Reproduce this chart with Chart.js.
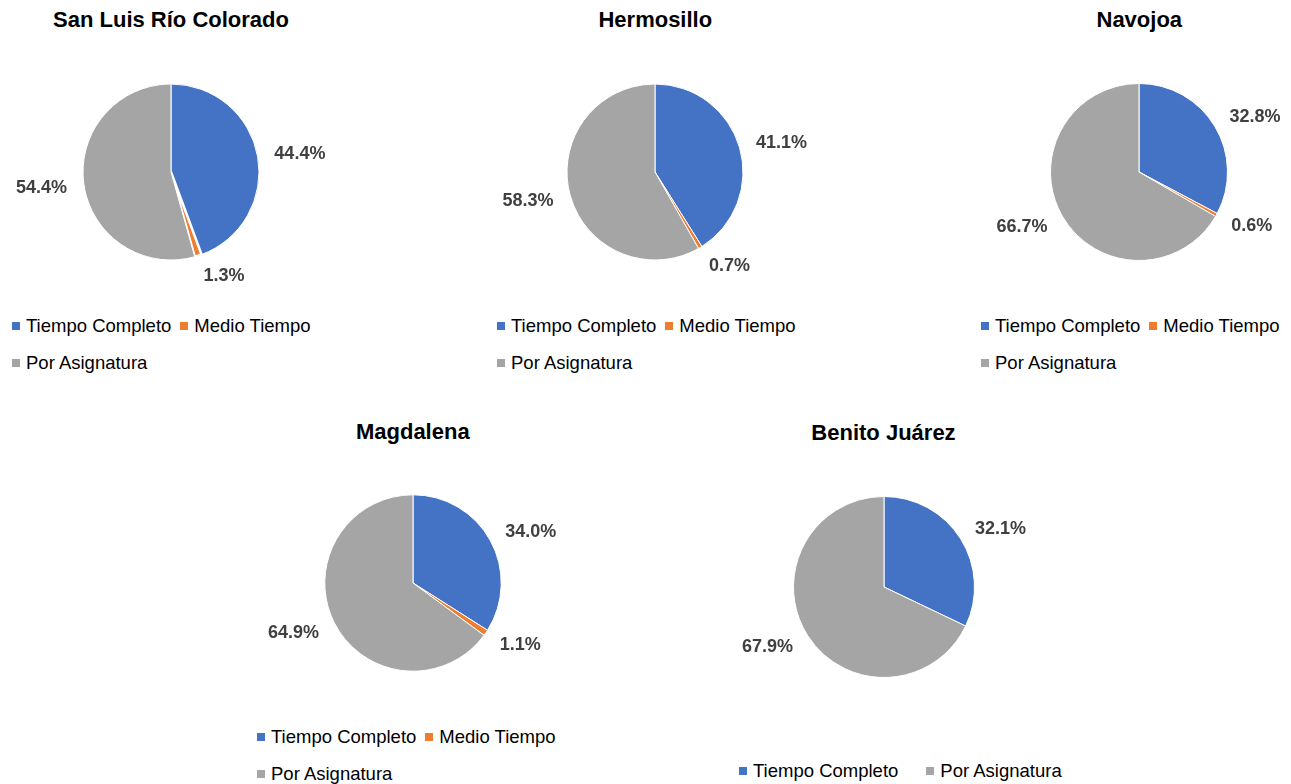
<!DOCTYPE html>
<html lang="es">
<head>
<meta charset="utf-8">
<title>Personal docente por campus</title>
<script src="https://cdn.jsdelivr.net/npm/chart.js@4.4.1/dist/chart.umd.min.js"></script>
<style>
  body { margin: 0; background: #fff; font-family: "Liberation Sans", Arial, sans-serif; }
  #pagina { position: relative; width: 1291px; height: 784px; overflow: hidden; }
  .titulo { position: absolute; font-weight: bold; font-size: 22px; line-height: 24px; color: #000; white-space: nowrap; transform: translateX(-50%); }
  canvas { position: absolute; }
  .leyenda { position: absolute; display: flex; flex-wrap: wrap; row-gap: 17px; font-size: 18.5px; line-height: 20px; color: #000; }
  .item { display: flex; align-items: center; height: 20px; white-space: nowrap; }
  .item i { display: inline-block; width: 8px; height: 8px; margin-right: 6px; }
</style>
</head>
<body>
<div id="pagina"></div>
<script>
// tipo de contratación
var categorias = ['Tiempo Completo', 'Medio Tiempo', 'Por Asignatura'];
var campus = ['San Luis Río Colorado', 'Hermosillo', 'Navojoa', 'Magdalena', 'Benito Juárez'];

// porcentajes por campus
var tiempoCompleto = [44.4, 41.1, 32.8, 34.0, 32.1];
var medioTiempo    = [1.3, 0.7, 0.6, 1.1, null];
var porAsignatura  = [54.4, 58.3, 66.7, 64.9, 67.9];

var colores = ['#4472C4', '#ED7D31', '#A5A5A5'];

// posición de cada pastel en la página
var posiciones = [
  { cx: 171,   cy: 172,   r: 88,   ty: 20,  lx: 12,  ly: 326, lw: 310, sep: 9,  borde: [1, 2.5, 1] },
  { cx: 655.3, cy: 171.7, r: 88,   ty: 20,  lx: 497, ly: 326, lw: 310, sep: 9,  borde: [1, 1, 1] },
  { cx: 1139.3,cy: 172,   r: 88.5, ty: 20,  lx: 981, ly: 326, lw: 310, sep: 9,  borde: [1, 1, 1] },
  { cx: 412.8, cy: 582.5, r: 88.2, ty: 432, lx: 257, ly: 737, lw: 310, sep: 9,  borde: [1, 1, 1] },
  { cx: 883.5, cy: 586.5, r: 90.5, ty: 433, lx: 739, ly: 771, lw: 400, sep: 28, borde: [1, 1, 1] }
];

var W = 360, H = 260;

// porcentajes fuera del pastel, alineados según el ángulo de cada rebanada
var etiquetas = {
  id: 'etiquetas',
  afterDatasetsDraw: function(chart) {
    var ctx = chart.ctx;
    var meta = chart.getDatasetMeta(0);
    var datos = chart.data.datasets[0].data;
    ctx.save();
    ctx.font = 'bold 18px "Liberation Sans", Arial, sans-serif';
    ctx.fillStyle = '#404040';
    ctx.textBaseline = 'middle';
    meta.data.forEach(function(arc, i) {
      var v = datos[i];
      if (v == null || !v) return;
      var p = arc.getProps(['x', 'y', 'startAngle', 'endAngle', 'outerRadius'], true);
      var medio = (p.startAngle + p.endAngle) / 2;
      var dx = Math.cos(medio), dy = Math.sin(medio);
      var d = p.outerRadius + 17;
      ctx.textAlign = dx > 0.2 ? 'left' : (dx < -0.2 ? 'right' : 'center');
      ctx.fillText(v.toFixed(1) + '%', p.x + dx * d, p.y + dy * d + dy * 3 + 1);
    });
    ctx.restore();
  }
};

var pagina = document.getElementById('pagina');

campus.forEach(function(nombre, k) {
  var pos = posiciones[k];

  var titulo = document.createElement('div');
  titulo.className = 'titulo';
  titulo.textContent = nombre;
  titulo.style.left = pos.cx + 'px';
  titulo.style.top = (pos.ty - 12) + 'px';
  pagina.appendChild(titulo);

  var canvas = document.createElement('canvas');
  canvas.width = W;
  canvas.height = H;
  canvas.style.left = (pos.cx - W / 2) + 'px';
  canvas.style.top = (pos.cy - H / 2) + 'px';
  pagina.appendChild(canvas);

  var grafica = new Chart(canvas.getContext('2d'), {
    type: 'pie',
    data: {
      labels: categorias,
      datasets: [{
        data: [tiempoCompleto[k], medioTiempo[k], porAsignatura[k]],
        backgroundColor: colores,
        borderColor: '#ffffff',
        borderWidth: pos.borde,
        radius: pos.r
      }]
    },
    options: {
      responsive: false,
      animation: false,
      layout: { padding: 0 },
      plugins: {
        legend: { display: false },
        tooltip: { enabled: false }
      }
    },
    plugins: [etiquetas]
  });

  // leyenda en html con los elementos que genera Chart.js
  var items = grafica.options.plugins.legend.labels.generateLabels(grafica);
  var leyenda = document.createElement('div');
  leyenda.className = 'leyenda';
  leyenda.style.left = pos.lx + 'px';
  leyenda.style.top = (pos.ly - 10) + 'px';
  leyenda.style.width = pos.lw + 'px';
  leyenda.style.columnGap = pos.sep + 'px';
  items.forEach(function(it) {
    if (grafica.data.datasets[0].data[it.index] == null) return;
    var el = document.createElement('span');
    el.className = 'item';
    var m = document.createElement('i');
    m.style.background = it.fillStyle;
    el.appendChild(m);
    el.appendChild(document.createTextNode(it.text));
    leyenda.appendChild(el);
  });
  pagina.appendChild(leyenda);
});
</script>
</body>
</html>
